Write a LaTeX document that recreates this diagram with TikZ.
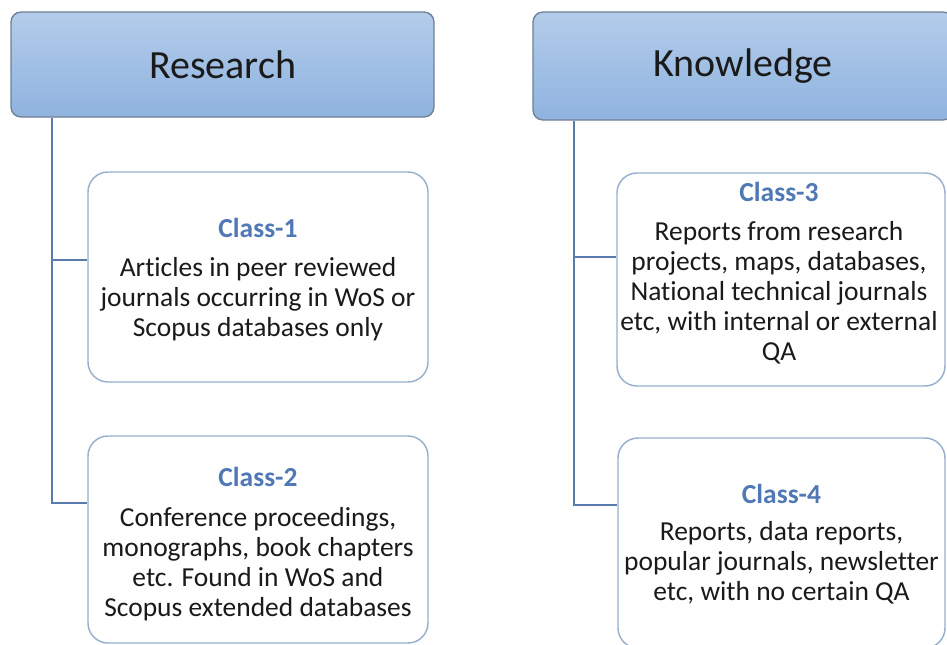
\documentclass[tikz,border=0pt]{standalone}
\usepackage{fontspec}
\setmainfont[Ligatures={NoCommon,NoContextual}]{Carlito}
\definecolor{hdrtop}{HTML}{B3CCEA}
\definecolor{hdrbot}{HTML}{8FB3DF}
\definecolor{hdrline}{HTML}{6F7F96}
\definecolor{boxline}{HTML}{98B0CF}
\definecolor{connline}{HTML}{5A7BAE}
\definecolor{titleblue}{HTML}{4F78B5}
\definecolor{textdark}{HTML}{1A1A1A}
\begin{document}
\begin{tikzpicture}[x=0.75pt,y=-0.75pt,
  hdr/.style={draw=hdrline, line width=1pt, rounded corners=7.5pt,
    top color=hdrtop, bottom color=hdrbot, inner sep=0pt,
    font=\fontsize{30}{34}\selectfont, text=textdark},
  classbox/.style={draw=boxline, line width=1.1pt, rounded corners=15pt,
    fill=white, inner sep=0pt},
  classtext/.style={align=center, inner sep=0pt,
    font=\fontsize{20.6}{22.5}\selectfont, text=textdark},
  conn/.style={draw=connline, line width=1.4pt}]
\useasboundingbox (0,0) rectangle (947,644);
\clip (0,0) rectangle (947,644);

\node[hdr, minimum width=317.25pt, minimum height=78.75pt] (hR) at (222.5,64.5) {Research};
\node[hdr, minimum width=315pt, minimum height=81pt] (hK) at (743,66) {Knowledge};

\node[classbox, minimum width=255pt, minimum height=157.5pt] (c1) at (258,277) {};
\node[classbox, minimum width=255pt, minimum height=155.25pt] (c2) at (258,539.5) {};
\node[classbox, minimum width=246pt, minimum height=159.75pt] (c3) at (781,279.5) {};
\node[classbox, minimum width=245.25pt, minimum height=157.5pt] (c4) at (781.5,543) {};

\draw[conn] ([xshift=31.5pt]hR.south west) |- ([yshift=12.75pt]c1.west);
\draw[conn] ([xshift=31.5pt]hR.south west) |- ([yshift=27.4pt]c2.west);
\draw[conn] ([xshift=31.5pt]hK.south west) |- ([yshift=16.9pt]c3.west);
\draw[conn] ([xshift=31.5pt]hK.south west) |- ([yshift=28.5pt]c4.west);

\node[classtext] (t1) at (258,279.5)
  {{\bfseries\color{titleblue}Class-1}\\[7pt]
   Articles in peer reviewed\\ journals occurring in WoS or\\ Scopus databases only};
\node[classtext] (t2) at (258,544)
  {{\bfseries\color{titleblue}Class-2}\\[7pt]
   Conference proceedings,\\ monographs, book chapters\\ etc. Found in WoS and\\ Scopus extended databases};
\node[classtext] (t3) at (779,273)
  {{\bfseries\color{titleblue}Class-3}\\[7pt]
   Reports from research\\ projects, maps, databases,\\ National technical journals\\ etc, with internal or external\\ QA};
\node[classtext] (t4) at (781.5,544)
  {{\bfseries\color{titleblue}Class-4}\\[5pt]
   Reports, data reports,\\ popular journals, newsletter\\ etc, with no certain QA};
\end{tikzpicture}
\end{document}
